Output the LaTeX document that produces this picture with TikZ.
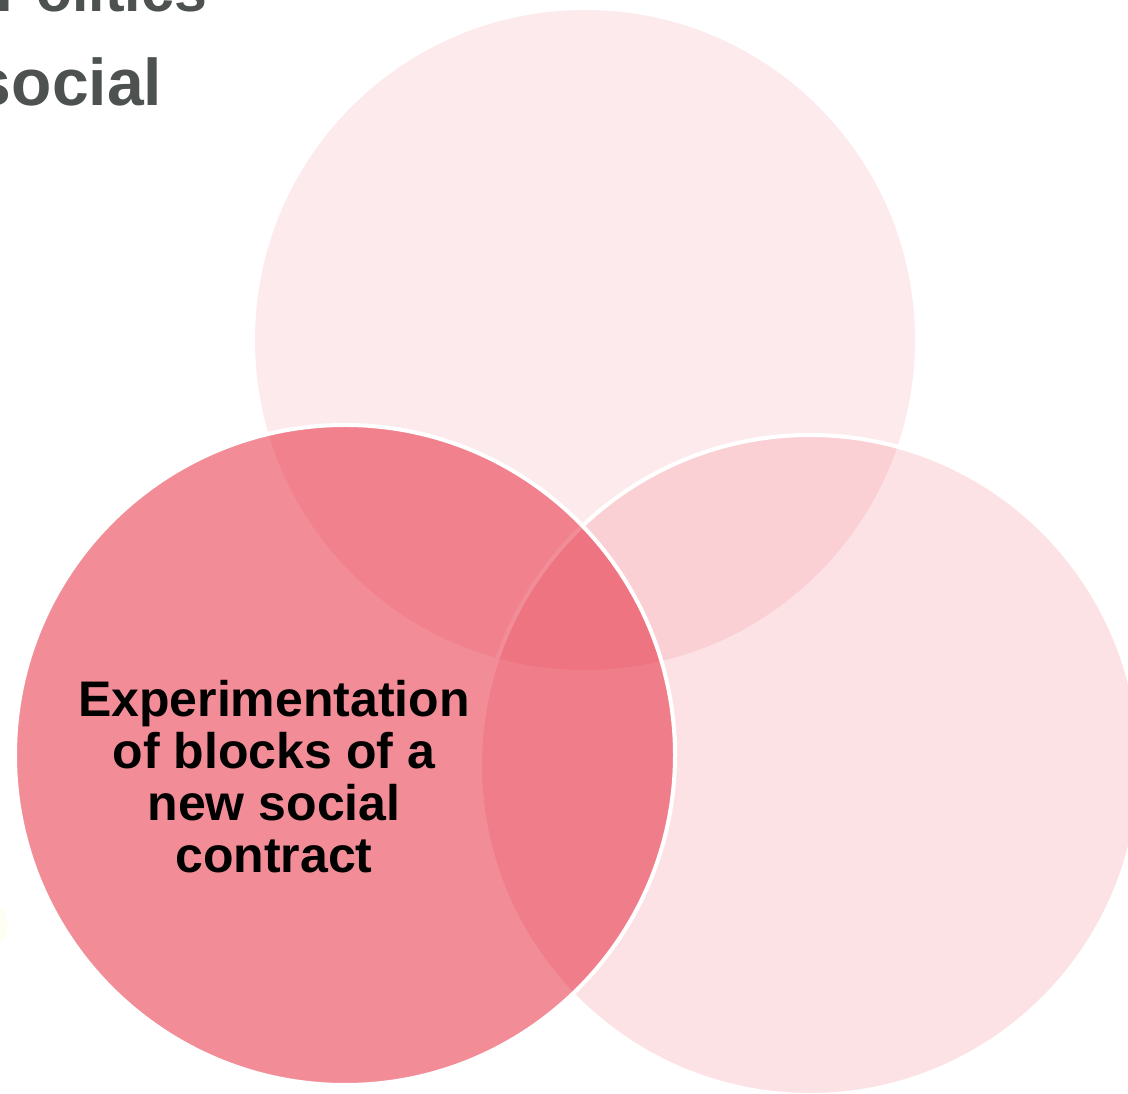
\documentclass[tikz,border=0pt]{standalone}
\usepackage{fontspec}
\setmainfont{Liberation Sans}
\usetikzlibrary{positioning}
\definecolor{venred}{RGB}{227,11,34}
\definecolor{headgray}{RGB}{77,81,80}

\begin{document}
\begin{tikzpicture}[x=1bp, y=1bp]
\tikzstyle{every node}=[inner sep=0pt, outer sep=0pt]
\tikzstyle{ring}=[circle, minimum size=660bp, fill=venred]
\tikzstyle{head}=[anchor=base west, text=headgray]
\useasboundingbox (0,0) rectangle (1128,1094);
\clip (0,0) rectangle (1128,1094);
\fill[yellow!5] (-18,169) circle (26);
\node[ring, fill opacity=0.086]                           (top)   at (585,754) {};
\node[ring, fill opacity=0.119, draw=white, line width=4bp] (right) at (810,329) {};
\node[ring, fill opacity=0.467, draw=white, line width=4bp] (left)  at (345,339) {};
\node[align=center, font=\bfseries\fontsize{50bp}{52bp}\selectfont] (lbl) at (274,317)
  {Experimentation\\of blocks of a\\new social\\contract};
\node[head, font=\bfseries\fontsize{59bp}{70bp}\selectfont] (pol) at (-3,1082) {Politics};
\node[head, font=\bfseries\fontsize{66bp}{79bp}\selectfont] (soc) at (-25,988) {social};
\end{tikzpicture}
\end{document}
